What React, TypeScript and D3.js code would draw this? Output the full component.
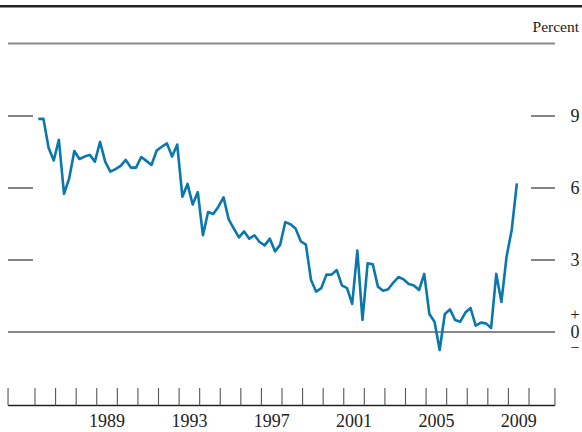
import { scaleLinear, line } from 'd3'

const width = 582,
      height = 432

// quarterly values, 1986:Q1 - 2009:Q2
const startYear = 1986
const values = [
  8.88, 8.88, 7.68, 7.15,
  8.01, 5.76, 6.40, 7.54,
  7.21, 7.31, 7.38, 7.10,
  7.92, 7.10, 6.68, 6.79,
  6.92, 7.17, 6.85, 6.85,
  7.29, 7.13, 6.96, 7.56,
  7.72, 7.86, 7.31, 7.81,
  5.64, 6.17, 5.31, 5.83,
  4.03, 5.00, 4.92, 5.22,
  5.61, 4.69, 4.31, 3.94,
  4.19, 3.89, 4.03, 3.75,
  3.61, 3.89, 3.36, 3.63,
  4.58, 4.49, 4.31, 3.78,
  3.64, 2.17, 1.68, 1.83,
  2.39, 2.39, 2.58, 1.94,
  1.83, 1.17, 3.39, 0.50,
  2.86, 2.82, 1.89, 1.72,
  1.78, 2.06, 2.29, 2.19,
  2.00, 1.94, 1.75, 2.42,
  0.75, 0.43, -0.75, 0.75,
  0.94, 0.50, 0.43, 0.81,
  1.00, 0.26, 0.39, 0.36,
  0.17, 2.42, 1.25, 3.14,
  4.25, 6.19,
]

const yTicks = [9, 6, 3]
const yearTicks = [1986, 1987, 1988, 1989, 1990, 1991, 1992, 1993, 1994, 1995, 1996, 1997,
  1998, 1999, 2000, 2001, 2002, 2003, 2004, 2005, 2006, 2007, 2008, 2009, 2010]
const yearLabels = [1989, 1993, 1997, 2001, 2005, 2009]
const xStart = 1984.69,
      xEnd = 2011.26

const font = '"Liberation Serif", "Times New Roman", serif'

export default function App() {
  const xScale = scaleLinear().domain([1986, 2010]).range([35, 529])
  const yScale = scaleLinear().domain([0, 9]).range([332, 116])

  const t = (i: number) => startYear + i / 4 + 0.16
  const path = line<number>()
    .x((d, i) => xScale(t(i)))
    .y(d => yScale(d))(values)

  const left = xScale(xStart),
        right = xScale(xEnd),
        axisY = 405.5

  return (
    <svg width={width} height={height} style={{ position: 'absolute', left: 0, top: 0, background: '#fff' }}>
      <line x1={0} x2={width} y1={6.2} y2={6.2} stroke='#222' strokeWidth={2.6} />
      <line x1={left} x2={right} y1={43.5} y2={43.5} stroke='#8a8a8a' strokeWidth={1.8} />
      <text x={579} y={32.3} textAnchor='end' fontFamily={font} fontSize={15.5} fill='#222'>Percent</text>

      {/* y ticks both sides */}
      {yTicks.map(v => (
        <g key={v}>
          <line x1={left} x2={33} y1={yScale(v)} y2={yScale(v)} stroke='#333' strokeWidth={1.2} />
          <line x1={531} x2={right} y1={yScale(v)} y2={yScale(v)} stroke='#333' strokeWidth={1.2} />
          <text x={575} y={yScale(v)} dy='0.34em' textAnchor='middle' fontFamily={font} fontSize={18} fill='#222'>{v}</text>
        </g>
      ))}
      <line x1={left} x2={right} y1={yScale(0)} y2={yScale(0)} stroke='#111' strokeWidth={1.2} />
      <text x={575} y={yScale(0) - 12} textAnchor='middle' fontFamily={font} fontSize={17} fill='#222'>+</text>
      <text x={575} y={yScale(0)} dy='0.34em' textAnchor='middle' fontFamily={font} fontSize={18} fill='#222'>0</text>
      <text x={575} y={yScale(0) + 21} textAnchor='middle' fontFamily={font} fontSize={16} fill='#222'>−</text>

      {/* x axis */}
      <line x1={left} x2={right} y1={axisY} y2={axisY} stroke='#222' strokeWidth={1.4} />
      {[xStart, ...yearTicks, xEnd].map(yr => (
        <line key={yr} x1={xScale(yr)} x2={xScale(yr)} y1={axisY} y2={388} stroke='#555' strokeWidth={1.1} />
      ))}
      {yearLabels.map(yr => (
        <text key={yr} x={xScale(yr + 0.5)} y={427} textAnchor='middle' fontFamily={font} fontSize={18} fill='#222'>{yr}</text>
      ))}

      <path d={path ?? ''} fill='none' stroke='#0a78ad' strokeWidth={2.6} strokeLinejoin='round' />
    </svg>
  )
}
